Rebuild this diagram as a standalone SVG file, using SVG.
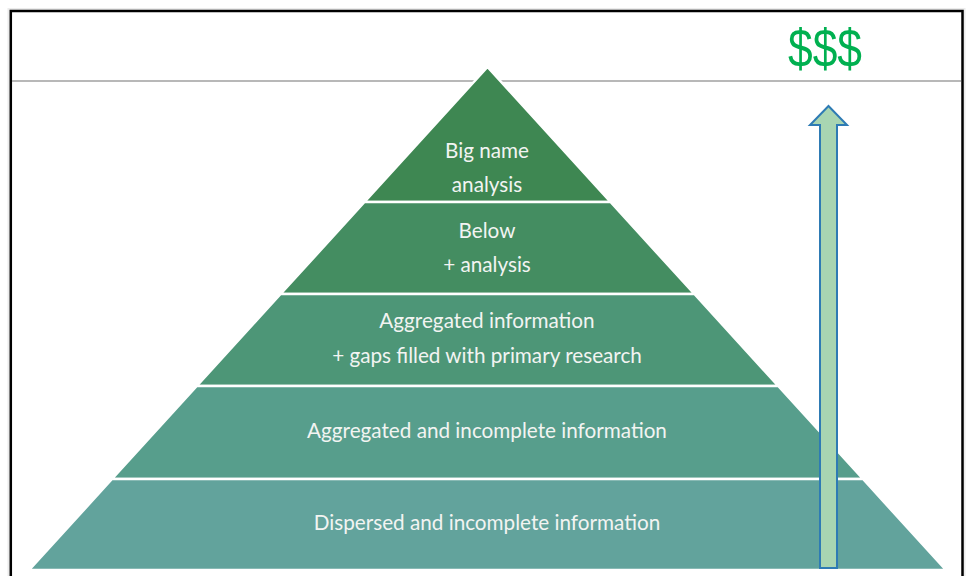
<svg xmlns="http://www.w3.org/2000/svg" width="967" height="576" viewBox="0 0 967 576">
  <defs>
    <style>
      .tier { stroke: #ffffff; stroke-width: 2.5; stroke-linejoin: miter; }
      .label { font-family: Lato, "Liberation Sans", sans-serif; font-size: 20.7px; fill: #f2f4f2; text-anchor: middle; }
      .price { font-family: "Liberation Sans", Arial, sans-serif; font-size: 54px; fill: #00b050; text-anchor: middle; }
    </style>
  </defs>

  <!-- page background and frame -->
  <rect x="0" y="0" width="967" height="576" fill="#ffffff"/>
  <rect x="9" y="9.5" width="955" height="580" fill="none" stroke="#ececec" stroke-width="3"/>
  <rect x="10.8" y="11" width="951.7" height="580" fill="none" stroke="#000000" stroke-width="2.5"/>
  <line x1="12" y1="81" x2="961" y2="81" stroke="#a0a0a0" stroke-width="1.5"/>

  <!-- price label -->
  <text class="price" x="825" y="67" textLength="74" lengthAdjust="spacingAndGlyphs">$$$</text>

  <!-- pyramid tiers, top to bottom -->
  <g id="tier-big-name">
    <polygon class="tier" fill="#3e8752" points="487.5,67 610.5,202 364.5,202"/>
    <text class="label" x="487" y="158">Big name</text>
    <text class="label" x="487" y="192">analysis</text>
  </g>
  <g id="tier-below-analysis">
    <polygon class="tier" fill="#448d61" points="364.5,202 610.5,202 694.4,294 280.6,294"/>
    <text class="label" x="487" y="238">Below</text>
    <text class="label" x="487" y="272">+ analysis</text>
  </g>
  <g id="tier-aggregated-primary">
    <polygon class="tier" fill="#4d9677" points="280.6,294 694.4,294 778.2,386 196.8,386"/>
    <text class="label" x="487" y="328">Aggregated information</text>
    <text class="label" x="487" y="363">+ gaps filled with primary research</text>
  </g>
  <g id="tier-aggregated-incomplete">
    <polygon class="tier" fill="#579e8c" points="196.8,386 778.2,386 863,479 112,479"/>
    <text class="label" x="487" y="438">Aggregated and incomplete information</text>
  </g>
  <g id="tier-dispersed">
    <polygon class="tier" fill="#62a39c" points="112,479 863,479 945.9,570 29.1,570"/>
    <text class="label" x="487" y="530">Dispersed and incomplete information</text>
  </g>

  <!-- rising value arrow -->
  <g id="connectors">
    <path d="M828.5,106 L847,125 L837,125 L837,568 L820,568 L820,125 L810,125 Z" fill="#a8d5b2" stroke="#2e7bb4" stroke-width="2" stroke-linejoin="miter"/>
  </g>
</svg>
